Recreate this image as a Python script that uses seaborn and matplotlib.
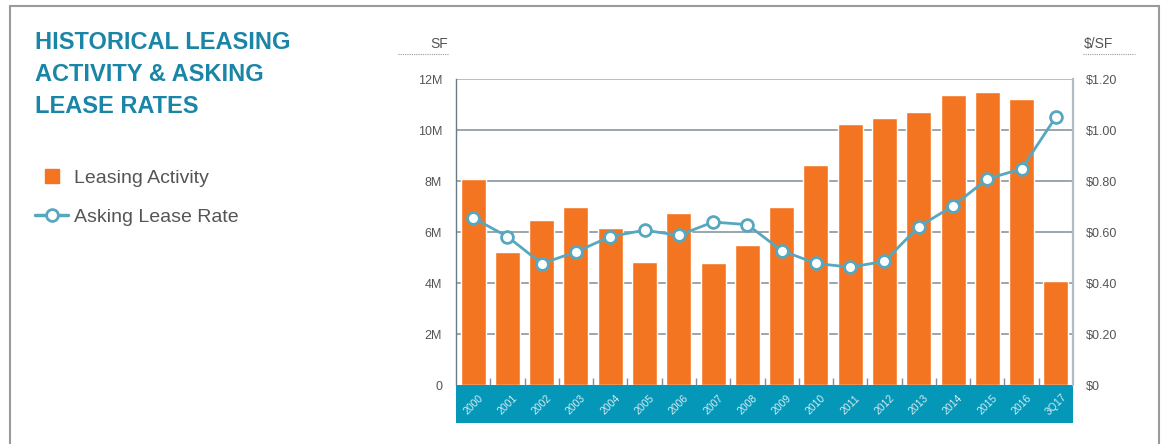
import numpy as np
import pandas as pd
import matplotlib.pyplot as plt
import seaborn as sns
from matplotlib.lines import Line2D
from matplotlib.patches import Rectangle
from matplotlib.ticker import FixedLocator

sns.set_style("white")
plt.rcParams['font.family'] = ['Liberation Sans', 'DejaVu Sans']

# data
years = ['2000', '2001', '2002', '2003', '2004', '2005', '2006', '2007', '2008',
         '2009', '2010', '2011', '2012', '2013', '2014', '2015', '2016', '3Q17']
leasing_sf = [8.08, 5.23, 6.47, 6.98, 6.16, 4.82, 6.76, 4.78, 5.49,
              6.98, 8.63, 10.25, 10.47, 10.71, 11.37, 11.49, 11.22, 4.08]  # millions
asking_rate = [0.655, 0.582, 0.476, 0.522, 0.582, 0.607, 0.587, 0.639, 0.629,
               0.527, 0.477, 0.462, 0.485, 0.621, 0.702, 0.808, 0.848, 1.051]
left_ticks = [0, 2, 4, 6, 8, 10, 12]
left_labels = ['0', '2M', '4M', '6M', '8M', '10M', '12M']
right_ticks = [0, 0.2, 0.4, 0.6, 0.8, 1.0, 1.2]
right_labels = ['$0', '$0.20', '$0.40', '$0.60', '$0.80', '$1.00', '$1.20']

df = pd.DataFrame({'year': years, 'sf': leasing_sf, 'rate': asking_rate})
df['pos'] = range(len(df))

ORANGE = '#f47521'
BAND = '#0497b8'
LINE = '#57a7bf'
GRID = '#7d8e9a'
TXT = '#555555'
TITLE = '#1a85a6'

W, H = 1165, 444
fig = plt.figure(figsize=(W / 100, H / 100), dpi=100)
ax = fig.add_axes([456 / W, 59 / H, 617 / W, 306 / H])

sns.barplot(data=df, x='year', y='sf', color=ORANGE, width=0.73,
            saturation=1, ax=ax, zorder=2)
ax.set_xlim(-0.5, len(years) - 0.5)
ax.set_ylim(0, 12)
ax.set_yticks(left_ticks)
ax.set_yticklabels(left_labels)
ax.set_xlabel('')
ax.set_ylabel('')
for t in left_ticks[1:]:
    ax.axhline(t, color=GRID if t < 12 else '#a3aeb6', lw=1.1, zorder=1)

for s in ['top', 'bottom']:
    ax.spines[s].set_visible(False)
ax.spines['left'].set_color('#6b7c88')
ax.spines['left'].set_linewidth(1.0)
ax.spines['right'].set_color('#b3bcc2')
ax.spines['right'].set_linewidth(1.6)

ax.tick_params(axis='y', length=0, pad=10, labelsize=9, labelcolor=TXT)
ax.xaxis.set_minor_locator(FixedLocator(np.arange(0.5, len(years) - 1, 1)))
ax.tick_params(axis='x', which='minor', direction='in', length=5, width=1,
               color='#7d8e9a', bottom=True)
ax.tick_params(axis='x', which='major', length=0, pad=14, labelsize=7.5,
               labelcolor='#d4ecf3')
for lab in ax.get_xticklabels():
    lab.set_rotation(45)
    lab.set_ha('center')
    lab.set_va('center')
    lab.set_rotation_mode('anchor')

# teal band under the plot
ax.add_patch(Rectangle((-0.5, 0), len(years), -38 / 306 * 12, transform=ax.transData,
                       facecolor=BAND, edgecolor='none', clip_on=False, zorder=0))

ax2 = ax.twinx()
sns.lineplot(data=df, x='pos', y='rate', ax=ax2, color=LINE, lw=2,
             marker='o', markersize=8.5, markerfacecolor='white',
             markeredgecolor=LINE, markeredgewidth=2, zorder=5)
ax2.set_ylim(0, 1.2)
ax2.set_yticks(right_ticks)
ax2.set_yticklabels(right_labels)
ax2.set_ylabel('')
ax2.set_xlabel('')
ax2.tick_params(axis='y', length=0, pad=9, labelsize=9, labelcolor=TXT)
for s in ax2.spines.values():
    s.set_visible(False)

# axis unit labels with dotted underline
fig.text(448 / W, 1 - 44 / H, 'SF', ha='right', va='center', fontsize=10, color=TXT)
fig.add_artist(Line2D([398 / W, 449 / W], [1 - 54 / H] * 2, color='#999999',
                      lw=0.8, ls=(0, (1, 1))))
fig.text(1084 / W, 1 - 44 / H, '$/SF', ha='left', va='center', fontsize=10, color=TXT)
fig.add_artist(Line2D([1083 / W, 1135 / W], [1 - 54 / H] * 2, color='#999999',
                      lw=0.8, ls=(0, (1, 1))))

# title
fig.text(35 / W, 1 - 31 / H, 'HISTORICAL LEASING\nACTIVITY & ASKING\nLEASE RATES',
         ha='left', va='top', fontsize=17, fontweight='bold', color=TITLE,
         linespacing=1.5)

# legend
handles = [Line2D([], [], ls='none', marker='s', markersize=10.5, color=ORANGE),
           Line2D([], [], color=LINE, lw=2.5, marker='o', markersize=8.5,
                  markerfacecolor='white', markeredgecolor=LINE, markeredgewidth=2)]
fig.legend(handles, ['Leasing Activity', 'Asking Lease Rate'], loc='upper left',
           bbox_to_anchor=(35 / W, 1 - 169 / H), frameon=False, fontsize=14,
           labelcolor=TXT, handlelength=1.7, handletextpad=0.3, labelspacing=1.1,
           borderpad=0, borderaxespad=0)

# outer frame
frame_kw = dict(color='#9a9a9a', lw=1.5)
fig.add_artist(Line2D([10 / W, 10 / W], [0, 1 - 6 / H], **frame_kw))
fig.add_artist(Line2D([10 / W, 1159 / W], [1 - 6 / H] * 2, **frame_kw))
fig.add_artist(Line2D([1159 / W, 1159 / W], [0, 1 - 6 / H], **frame_kw))

fig.savefig('out.png', dpi=100)
